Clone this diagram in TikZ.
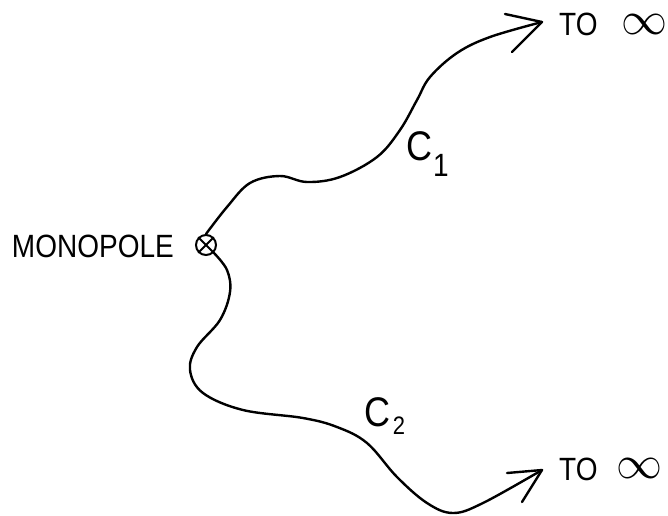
\documentclass[tikz,border=0pt]{standalone}
\usepackage{fontspec}
\usepackage{graphicx}
\setmainfont{Liberation Sans}
% hand-lettered capitals are a little taller than the font's own
\newcommand{\tallcaps}[1]{\scalebox{1.0}[1.15]{#1}}
\begin{document}
\begin{tikzpicture}[x=1pt,y=-1pt,
  pen/.style={line width=2.4pt,line cap=round,line join=round},
  lbl/.style={inner sep=0pt,font=\fontsize{28}{28}\selectfont},
  big/.style={inner sep=0pt,font=\fontsize{36}{36}\selectfont},
  inf/.style={inner sep=0pt}]
\useasboundingbox (0,0) rectangle (668,515);

% monopole marker and its label
\node[circle,draw,line width=2pt,minimum size=20pt,inner sep=0pt] (mono) at (206,245) {};
\draw[line width=2pt] (mono.north west) -- (mono.south east) (mono.north east) -- (mono.south west);
\node[lbl,anchor=east] (mlabel) at (174,246) {\tallcaps{MONOPOLE}};

% ends of the two paths
\coordinate (tip1) at (542,22);
\coordinate (b1a) at (505,14);
\coordinate (b1b) at (512,52);
\coordinate (tip2) at (542,470);
\coordinate (b2a) at (507,473);
\coordinate (b2b) at (522,502);

% path C1
\draw[pen] plot[smooth,tension=0.6] coordinates {
  (mono.north) (227,207) (250,183) (280,176) (307,182) (340,177)
  (377,157) (400,130) (417,100) (430,77) (457,53) (490,37) (tip1)};
\draw[pen] (b1a) -- (tip1) -- (b1b);

% path C2
\draw[pen] plot[smooth,tension=0.6] coordinates {
  (mono.south east) (227,270) (230,292) (220,320) (197,347) (190,370)
  (203,393) (243,410) (303,418) (337,427) (367,443) (397,477)
  (427,503) (453,513) (483,503) (tip2)};
\draw[pen] (b2a) -- (tip2) -- (b2b);

% labels at the far ends
\node[lbl,anchor=west] (to1) at (559,24) {\tallcaps{TO}};
\node[inf] (inf1) at (644,24) {\resizebox{46pt}{20pt}{$\infty$}};
\node[lbl,anchor=west] (to2) at (559,469) {\tallcaps{TO}};
\node[inf] (inf2) at (639,468) {\resizebox{46pt}{20pt}{$\infty$}};

% path names
\node[big] (c1) at (419,146) {\tallcaps{C}};
\node[lbl] (c1s) at (441,165) {\tallcaps{1}};
\node[big] (c2) at (377,412) {\tallcaps{C}};
\node[inner sep=0pt,font=\fontsize{22}{22}\selectfont] (c2s) at (399,426) {\tallcaps{2}};
\end{tikzpicture}
\end{document}
